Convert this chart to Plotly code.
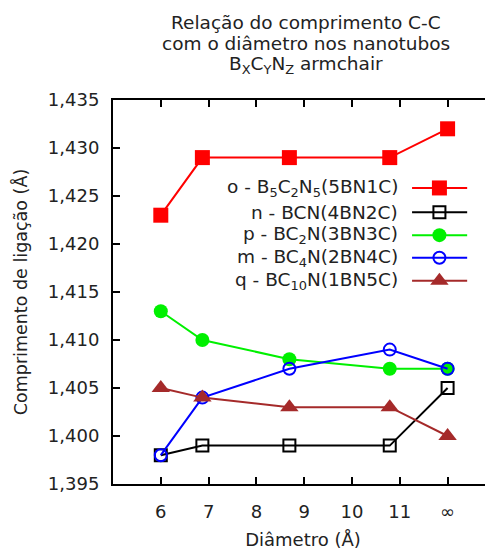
import plotly.graph_objects as go

# ---- data ----
diametro = [6.0, 6.87, 8.69, 10.79, 12.0]   # 12 -> "∞"
x_tickvals = [6, 7, 8, 9, 10, 11, 12]
x_ticktext = ["6", "7", "8", "9", "10", "11", "∞"]
y_tickvals = [1.395, 1.400, 1.405, 1.410, 1.415, 1.420, 1.425, 1.430, 1.435]
y_ticktext = ["1,395", "1,400", "1,405", "1,410", "1,415", "1,420", "1,425", "1,430", "1,435"]

o_B5C2N5 = [1.423, 1.429, 1.429, 1.429, 1.432]
n_BCN = [1.398, 1.399, 1.399, 1.399, 1.405]
p_BC2N = [1.413, 1.410, 1.408, 1.407, 1.407]
m_BC4N = [1.398, 1.404, 1.407, 1.409, 1.407]
q_BC10N = [1.405, 1.404, 1.403, 1.403, 1.400]

names = [
    "o - B<sub>5</sub>C<sub>2</sub>N<sub>5</sub>(5BN1C)",
    "n - BCN(4BN2C)",
    "p - BC<sub>2</sub>N(3BN3C)",
    "m - BC<sub>4</sub>N(2BN4C)",
    "q - BC<sub>10</sub>N(1BN5C)",
]
series = [o_B5C2N5, n_BCN, p_BC2N, m_BC4N, q_BC10N]

title_lines = [
    "Relação do comprimento C-C",
    "com o diâmetro nos nanotubos",
    "B<sub>X</sub>C<sub>Y</sub>N<sub>Z</sub> armchair",
]

# ---- styles ----
colors = ["#ff0000", "#000000", "#00f000", "#0000ff", "#a52a2a"]
symbols = ["square", "square-open", "circle", "circle-open", "triangle-up"]
sizes = [15, 12, 14, 12, 16]
mlw = [0, 2, 0, 2, 0]

FONT = "DejaVu Sans"
TXT = "#222222"
fig = go.Figure()

for ys, c, s, sz, lw in zip(series, colors, symbols, sizes, mlw):
    fig.add_trace(go.Scatter(
        x=diametro, y=ys, mode="lines+markers",
        line=dict(color=c, width=2),
        marker=dict(symbol=s, size=sz, color=c, line=dict(color=c, width=lw)),
        showlegend=False, hoverinfo="skip",
    ))

# ---- custom legend (gnuplot style: text then sample) ----
leg_x = [0.787, 0.859, 0.932]
leg_y = [0.771, 0.708, 0.648, 0.589, 0.529]
for nm, c, s, sz, lw, yy in zip(names, colors, symbols, sizes, mlw, leg_y):
    fig.add_trace(go.Scatter(
        x=leg_x, y=[yy] * 3, xaxis="x2", yaxis="y2", mode="lines+markers",
        line=dict(color=c, width=2),
        marker=dict(symbol=s, size=sz, color=c, opacity=[0, 1, 0],
                    line=dict(color=c, width=lw)),
        showlegend=False, hoverinfo="skip",
    ))
    fig.add_annotation(x=0.755, y=yy, xref="x2", yref="y2", text=nm,
                       showarrow=False, xanchor="right", yanchor="middle",
                       font=dict(family=FONT, size=18.5, color=TXT))

# ---- title (three lines, gnuplot spacing) ----
for t, ty in zip(title_lines, [1.203, 1.146, 1.091]):
    fig.add_annotation(x=0.508, y=ty, xref="paper", yref="paper", text=t,
                       showarrow=False, xanchor="center", yanchor="middle",
                       font=dict(family=FONT, size=18.5, color=TXT))

axis_common = dict(showline=True, linecolor="black", linewidth=2, mirror="allticks",
                   ticks="inside", ticklen=7, tickwidth=1.5, tickcolor="black",
                   showgrid=False, zeroline=False, automargin=False,
                   tickfont=dict(family=FONT, size=18, color=TXT))

fig.update_layout(
    width=485, height=542,
    margin=dict(l=105, r=0, t=92, b=66),
    paper_bgcolor="white", plot_bgcolor="white",
    xaxis=dict(range=[5, 12.95], tickvals=x_tickvals, ticktext=x_ticktext,
               ticklabelstandoff=10,
               title=dict(text="Diâmetro (Å)", font=dict(family=FONT, size=18, color=TXT),
                          standoff=13),
               **axis_common),
    yaxis=dict(range=[1.395, 1.435], tickvals=y_tickvals, ticktext=y_ticktext,
               ticklabelstandoff=8,
               title=dict(text="Comprimento de ligação (Å)",
                          font=dict(family=FONT, size=17.5, color=TXT), standoff=16),
               **axis_common),
    xaxis2=dict(range=[0, 1], overlaying="x", visible=False, fixedrange=True),
    yaxis2=dict(range=[0, 1], overlaying="y", visible=False, fixedrange=True),
)

fig.write_html("out.html")
